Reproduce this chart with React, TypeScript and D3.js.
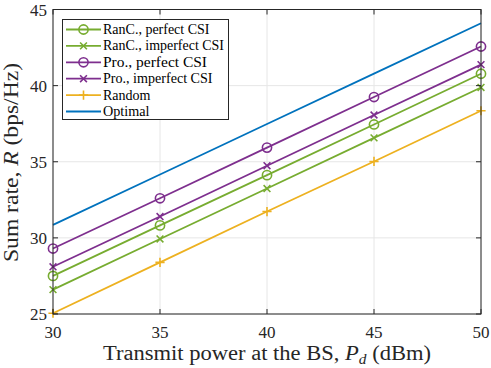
import React from "react";
import { scaleLinear, line } from "d3";

// transmit power P_d (dBm)
const powers = [30, 35, 40, 45, 50];

// sum rate (bps/Hz)
const rancPerfect = [27.5, 30.82, 34.12, 37.45, 40.78];
const rancImperfect = [26.6, 29.93, 33.24, 36.57, 39.88];
const proPerfect = [29.3, 32.6, 35.93, 39.25, 42.57];
const proImperfect = [28.1, 31.4, 34.74, 38.07, 41.38];
const randomSel = [25.05, 28.39, 31.73, 35.02, 38.35];
const optimal = [30.85, 34.16, 37.48, 40.79, 44.1];

const xTicks = [30, 35, 40, 45, 50];
const yTicks = [25, 30, 35, 40, 45];

const series = [
  { name: "RanC., perfect CSI", values: rancPerfect, color: "#77AC30", marker: "o" },
  { name: "RanC., imperfect CSI", values: rancImperfect, color: "#77AC30", marker: "x" },
  { name: "Pro., perfect CSI", values: proPerfect, color: "#7E2F8E", marker: "o" },
  { name: "Pro., imperfect CSI", values: proImperfect, color: "#7E2F8E", marker: "x" },
  { name: "Random", values: randomSel, color: "#EDB120", marker: "+" },
  { name: "Optimal", values: optimal, color: "#0072BD", marker: "none" },
];

// widths of legend labels (the LaTeX font runs wider than Liberation Serif)
const legendWidths = [106.5, 121, 104, 109.5, 47.5, 46.5];

const FONT = "'Liberation Serif', 'DejaVu Serif', serif";

function Marker({ type, x, y, color }: { type: string; x: number; y: number; color: string }) {
  if (type === "o") {
    return <circle cx={x} cy={y} r={4.6} fill="none" stroke={color} strokeWidth={1.6} />;
  }
  if (type === "x") {
    const s = 3.4;
    return (
      <path
        d={`M${x - s},${y - s}L${x + s},${y + s}M${x - s},${y + s}L${x + s},${y - s}`}
        stroke={color}
        strokeWidth={1.6}
      />
    );
  }
  if (type === "+") {
    const s = 4.6;
    return (
      <path d={`M${x - s},${y}L${x + s},${y}M${x},${y - s}L${x},${y + s}`} stroke={color} strokeWidth={1.6} />
    );
  }
  return null;
}

export default function App() {
  const width = 491;
  const height = 368;
  const left = 53;
  const right = 481;
  const top = 9.5;
  const bottom = 314;

  const x = scaleLinear().domain([30, 50]).range([left, right]);
  const y = scaleLinear().domain([25, 45]).range([bottom, top]);
  const path = line<number>()
    .x((_, i) => x(powers[i]))
    .y((d) => y(d));

  const tick = 5;

  return (
    <svg
      width={width}
      height={height}
      style={{ position: "absolute", left: 0, top: 0, background: "#fff" }}
      fontFamily={FONT}
    >
      <rect x={0} y={0} width={width} height={height} fill="#fff" />
      {/* grid */}
      {xTicks.map((t) => (
        <line key={`gx${t}`} x1={x(t)} x2={x(t)} y1={top} y2={bottom} stroke="#e6e6e6" strokeWidth={1} />
      ))}
      {yTicks.map((t) => (
        <line key={`gy${t}`} x1={left} x2={right} y1={y(t)} y2={y(t)} stroke="#e6e6e6" strokeWidth={1} />
      ))}

      {/* series */}
      {series.map((s) => (
        <g key={s.name}>
          <path d={path(s.values) ?? ""} fill="none" stroke={s.color} strokeWidth={1.8} />
          {s.values.map((v, i) => (
            <Marker key={i} type={s.marker} x={x(powers[i])} y={y(v)} color={s.color} />
          ))}
        </g>
      ))}

      {/* axes box and ticks */}
      <rect x={left} y={top} width={right - left} height={bottom - top} fill="none" stroke="#262626" strokeWidth={1} />
      {xTicks.map((t) => (
        <g key={`tx${t}`}>
          <line x1={x(t)} x2={x(t)} y1={bottom} y2={bottom - tick} stroke="#262626" />
          <line x1={x(t)} x2={x(t)} y1={top} y2={top + tick} stroke="#262626" />
          <text x={x(t)} y={bottom + 24} textAnchor="middle" fontSize={17} fill="#262626">
            {t}
          </text>
        </g>
      ))}
      {yTicks.map((t) => (
        <g key={`ty${t}`}>
          <line x1={left} x2={left + tick} y1={y(t)} y2={y(t)} stroke="#262626" />
          <line x1={right} x2={right - tick} y1={y(t)} y2={y(t)} stroke="#262626" />
          <text x={left - 6} y={y(t) + 6} textAnchor="end" fontSize={17} fill="#262626">
            {t}
          </text>
        </g>
      ))}

      {/* axis labels */}
      <text
        x={103}
        y={360}
        fontSize={20.5}
        fill="#262626"
        textLength={328}
        lengthAdjust="spacingAndGlyphs"
      >
        Transmit power at the BS, <tspan fontStyle="italic">P</tspan>
        <tspan fontStyle="italic" fontSize={14} dy={4}>d</tspan>
        <tspan dy={-4}> (dBm)</tspan>
      </text>
      <text
        transform={`translate(18, 262) rotate(-90)`}
        fontSize={20.5}
        fill="#262626"
        textLength={199}
        lengthAdjust="spacingAndGlyphs"
      >
        Sum rate, <tspan fontStyle="italic">R</tspan> (bps/Hz)
      </text>

      {/* legend */}
      <g>
        <rect x={62.5} y={19.5} width={166} height={100} fill="#fff" stroke="#262626" strokeWidth={1} />
        {series.map((s, i) => {
          const ly = 29.5 + i * 16.4;
          return (
            <g key={`lg${s.name}`}>
              <line x1={66} x2={101} y1={ly} y2={ly} stroke={s.color} strokeWidth={1.8} />
              <Marker type={s.marker} x={83.5} y={ly} color={s.color} />
              <text
                x={103}
                y={ly + 4.5}
                fontSize={14}
                fill="#000"
                textLength={legendWidths[i]}
                lengthAdjust="spacingAndGlyphs"
              >
                {s.name}
              </text>
            </g>
          );
        })}
      </g>
    </svg>
  );
}
